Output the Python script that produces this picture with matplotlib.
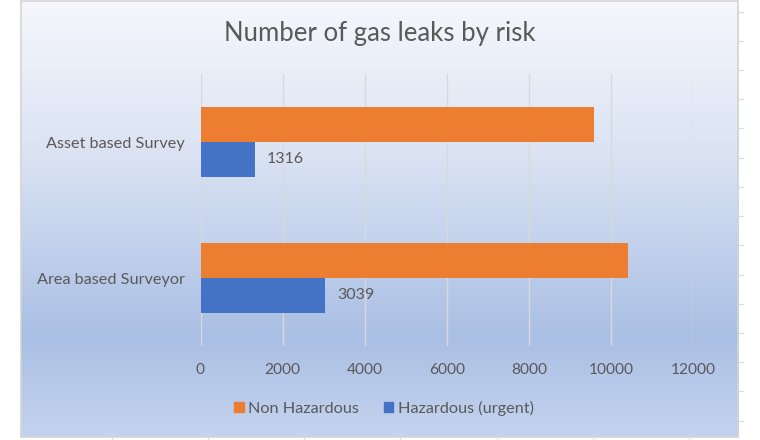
import numpy as np
import matplotlib
matplotlib.use("Agg")
import matplotlib.pyplot as plt
from matplotlib.colors import LinearSegmentedColormap
from matplotlib.patches import Rectangle, Patch

categories = ["Area based Surveyor", "Asset based Survey"]
non_hazardous = [10410, 9580]
hazardous = [3039, 1316]
series_names = ["Non Hazardous", "Hazardous (urgent)"]
x_ticks = [0, 2000, 4000, 6000, 8000, 10000, 12000]
title = "Number of gas leaks by risk"

ORANGE = "#ED7D31"
BLUE = "#4472C4"
TXT = "#595959"
FONT = ["Lato", "DejaVu Sans"]

W, H = 760, 440
fig = plt.figure(figsize=(W / 100, H / 100), dpi=100)
fig.patch.set_facecolor("white")

# background gradient chart area
L, R, T, B = 20.5, 738, 1, 437
bg = fig.add_axes([L / W, 1 - B / H, (R - L) / W, (B - T) / H])
cmap = LinearSegmentedColormap.from_list(
    "g", [(0, "#f5f7fc"), (0.35, "#dbe3f3"), (0.77, "#aabfe4"), (1.0, "#c4d3ee")])
grad = np.linspace(0, 1, 256).reshape(-1, 1)
bg.imshow(grad, aspect="auto", cmap=cmap, extent=[0, 1, 0, 1], origin="upper")
bg.set_xlim(0, 1); bg.set_ylim(0, 1)
bg.axis("off")
fig.patches.append(Rectangle((L / W, 1 - B / H), (R - L) / W, (B - T) / H,
                             transform=fig.transFigure, fill=False,
                             edgecolor="#d4d4d4", lw=1.2))
# faint spreadsheet cell marks outside chart
for yy in np.arange(11.7, 430, 29.2):
    fig.add_artist(plt.Line2D([739 / W, 743 / W], [1 - yy / H] * 2,
                              color="#dcdcdc", lw=0.8, transform=fig.transFigure))
for xx in [112, 208, 304, 400, 497, 593, 689]:
    fig.add_artist(plt.Line2D([xx / W] * 2, [0, 1 - 438 / H],
                              color="#dcdcdc", lw=0.8, transform=fig.transFigure))

# main axes
x0, x1, y0, y1 = 200.5, 693.3, 74, 346
ax = fig.add_axes([x0 / W, 1 - y1 / H, (x1 - x0) / W, (y1 - y0) / H])
ax.patch.set_alpha(0)
pos = np.arange(len(categories))
h = 0.257
ax.barh(pos + h / 2, non_hazardous, height=h, color=ORANGE, label=series_names[0], zorder=3)
ax.barh(pos - h / 2, hazardous, height=h, color=BLUE, label=series_names[1], zorder=3)
for p, v in zip(pos, hazardous):
    ax.annotate(str(v), xy=(v, p - h / 2), xytext=(8.5, 0), textcoords="offset points",
                ha="left", va="center", fontsize=11.5, color=TXT, family=FONT)

ax.set_xlim(0, 12000)
ax.set_ylim(-0.5, 1.5)
ax.set_xticks(x_ticks)
ax.set_xticklabels([str(t) for t in x_ticks], family=FONT, fontsize=11.2, color=TXT)
ax.set_yticks(pos)
ax.set_yticklabels(categories, family=FONT, fontsize=11.7, color=TXT)
ax.tick_params(axis="x", length=0, pad=12)
ax.tick_params(axis="y", length=0, pad=11.5)
ax.grid(axis="x", color="#d9d9d9", lw=1.0, zorder=0)
for s in ax.spines.values():
    s.set_visible(False)

fig.text(380 / W, 1 - 33 / H, title, ha="center", va="center",
         fontsize=18.5, color=TXT, family=FONT)

handles = [Patch(color=ORANGE), Patch(color=BLUE)]
fig.legend(handles, series_names, loc="center", bbox_to_anchor=(384 / W, 1 - 408 / H),
           ncol=2, frameon=False, handlelength=0.6, handleheight=0.6,
           handletextpad=0.3, columnspacing=1.5,
           prop={"family": FONT, "size": 11.7}, labelcolor=TXT)

fig.savefig("out.png", dpi=100)
